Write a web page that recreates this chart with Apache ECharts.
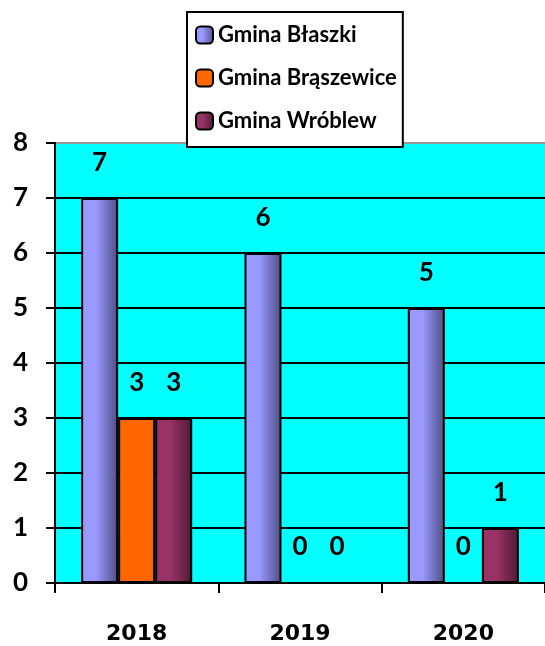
<!DOCTYPE html>
<html><head><meta charset="utf-8">
<script src="https://cdn.jsdelivr.net/npm/echarts@6/dist/echarts.min.js"></script>
<style>html,body{margin:0;padding:0;background:#fff;overflow:hidden}#c{width:545px;height:646px}</style>
</head><body><div id="c"></div>
<script>
const categories = ['2018', '2019', '2020'];
const seriesNames = ['Gmina Błaszki', 'Gmina Brąszewice', 'Gmina Wróblew'];
const blaszki = [7, 6, 5];
const braszewice = [3, 0, 0];
const wroblew = [3, 0, 1];
const yTicks = [0, 1, 2, 3, 4, 5, 6, 7, 8];

const FONT = 'Lato';
function grad(a, b) {
  return new echarts.graphic.LinearGradient(0, 0, 1, 0, [
    { offset: 0, color: a }, { offset: 0.4, color: a }, { offset: 1, color: b }
  ]);
}
const label = { show: true, position: 'top', distance: 22, color: '#000', fontFamily: FONT, fontWeight: 'bold', fontSize: 26 };
function mk(name, data, color) {
  return { name, type: 'bar', data, barGap: '0%', barCategoryGap: '32%',
    itemStyle: { color, borderColor: '#000', borderWidth: 2 }, label };
}
const chart = echarts.init(document.getElementById('c'), null, { renderer: 'canvas' });
chart.setOption({
  animation: false,
  backgroundColor: '#fff',
  legend: {
    orient: 'vertical', left: 187, top: 12,
    backgroundColor: '#fff', borderColor: '#000', borderWidth: 2,
    padding: [12, 6, 15, 8], itemWidth: 17, itemHeight: 17, itemGap: 21,
    textStyle: { fontFamily: FONT, fontWeight: 'bold', fontSize: 22, lineHeight: 17, color: '#000' },
    data: seriesNames
  },
  grid: { left: 55, right: 0, top: 143, bottom: 63, show: true, backgroundColor: '#00ffff', borderWidth: 0 },
  xAxis: {
    type: 'category', data: categories,
    axisLine: { lineStyle: { color: '#000', width: 2 } },
    axisTick: { show: true, length: 10, lineStyle: { color: '#000', width: 2 } },
    axisLabel: { margin: 40, fontFamily: 'DejaVu Sans', fontWeight: 'bold', fontSize: 22, color: '#000' }
  },
  yAxis: {
    type: 'value', min: yTicks[0], max: yTicks[yTicks.length - 1], interval: 1,
    axisLine: { show: true, lineStyle: { color: '#000', width: 2 } },
    axisTick: { show: true, length: 9, lineStyle: { color: '#000', width: 2 } },
    axisLabel: { margin: 27, fontFamily: FONT, fontWeight: 'bold', fontSize: 26, color: '#000' },
    splitLine: { show: true, lineStyle: { color: ['#000','#000','#000','#000','#000','#000','#000','#000','#999'], width: 2 } }
  },
  series: [
    mk(seriesNames[0], blaszki, grad('#9999ff', '#4d4d80')),
    mk(seriesNames[1], braszewice, '#ff6600'),
    mk(seriesNames[2], wroblew, grad('#993366', '#4d1a33'))
  ]
});
</script></body></html>
